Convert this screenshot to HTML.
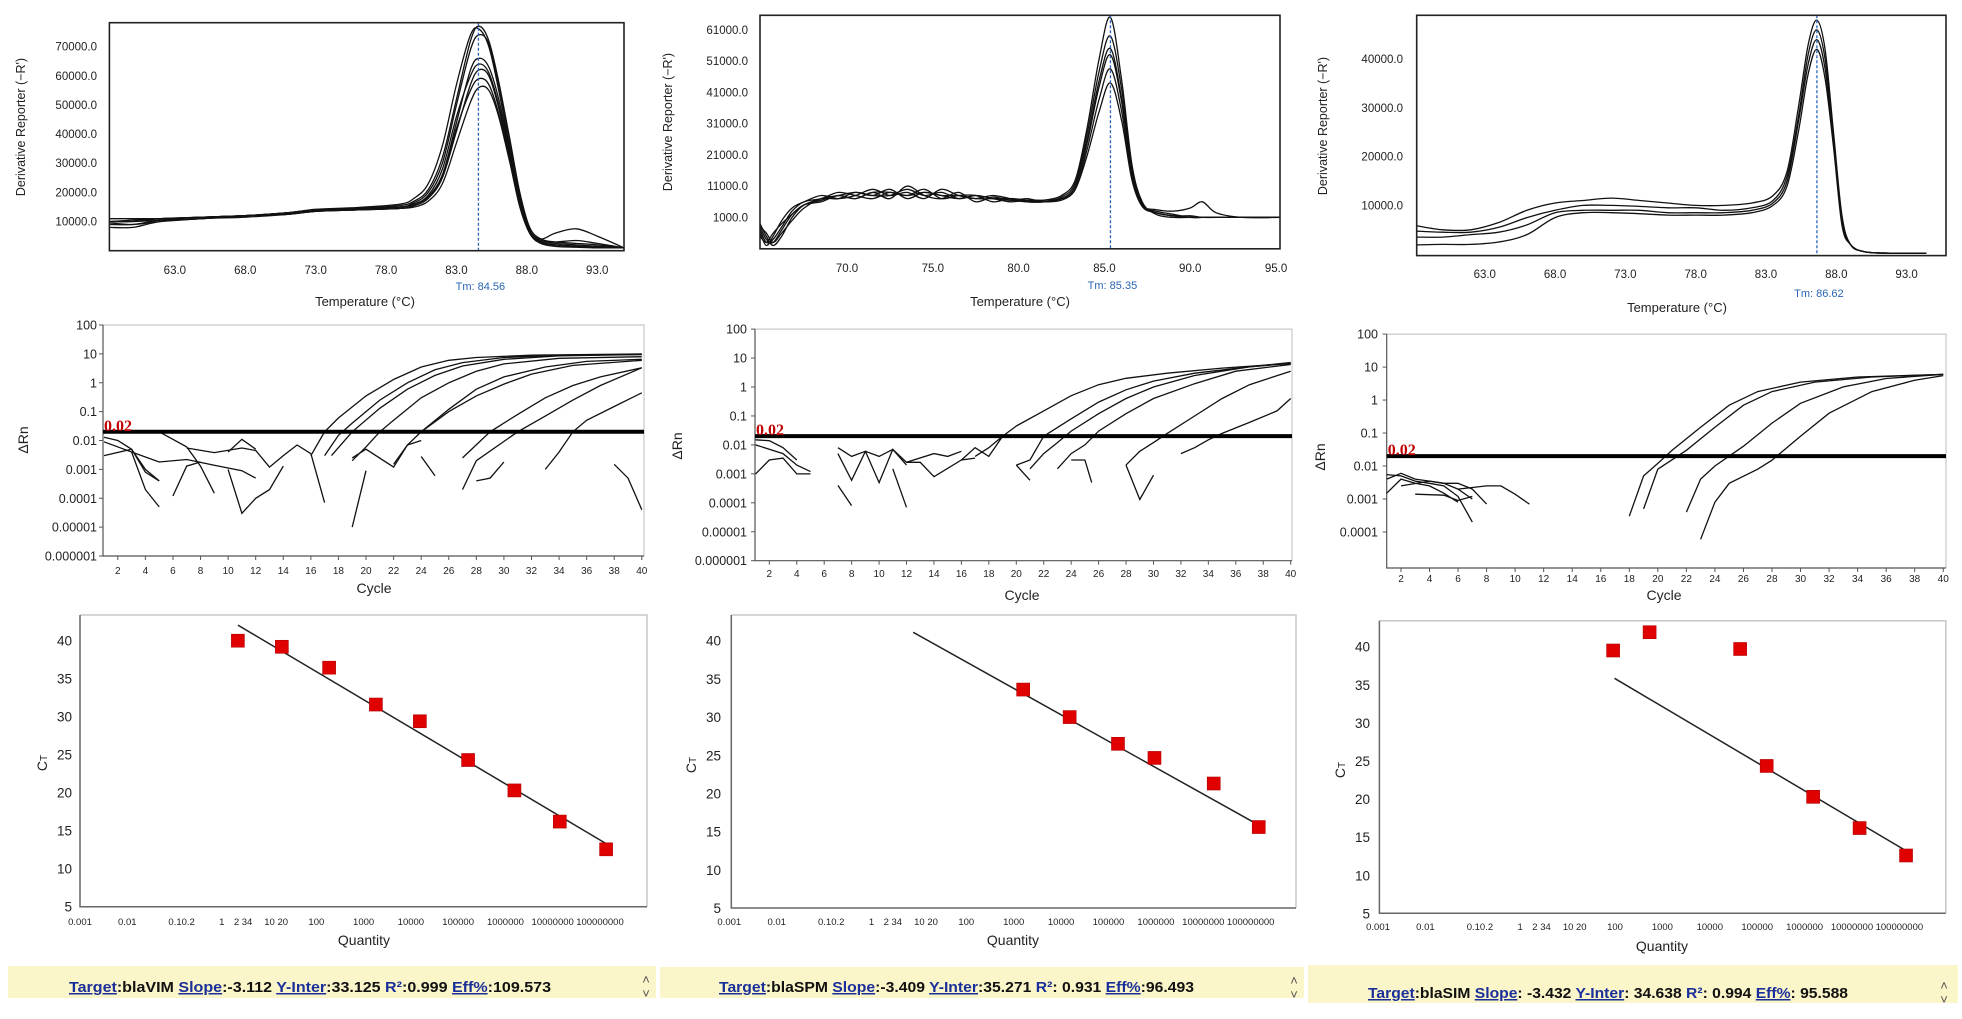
<!DOCTYPE html>
<html><head><meta charset="utf-8"><style>
html,body{margin:0;padding:0;background:#fff;}
svg{display:block;font-family:"Liberation Sans",Arial,sans-serif;}
</style></head><body>
<svg id="chart" width="1962" height="1019" viewBox="0 0 1962 1019" xmlns="http://www.w3.org/2000/svg">
<rect x="0" y="0" width="1962" height="1019" fill="#fff"/>
<g>
<rect x="8" y="966" width="648" height="32" fill="#fbf6c9"/>
<text x="69" y="992" font-size="15" font-weight="bold" textLength="482" lengthAdjust="spacingAndGlyphs"><tspan fill="#1a2f9a" text-decoration="underline">Target</tspan><tspan fill="#111">:blaVIM  </tspan><tspan fill="#1a2f9a" text-decoration="underline">Slope</tspan><tspan fill="#111">:-3.112  </tspan><tspan fill="#1a2f9a" text-decoration="underline">Y-Inter</tspan><tspan fill="#111">:33.125 </tspan><tspan fill="#1a2f9a">R²</tspan><tspan fill="#111">:0.999  </tspan><tspan fill="#1a2f9a" text-decoration="underline">Eff%</tspan><tspan fill="#111">:109.573</tspan></text>
<text x="646" y="984" font-size="13" fill="#555" text-anchor="middle">˄</text>
<text x="646" y="998" font-size="13" fill="#555" text-anchor="middle">˅</text>
</g>
<g>
<rect x="660" y="967" width="644" height="31" fill="#fbf6c9"/>
<text x="719" y="992" font-size="15" font-weight="bold" textLength="475" lengthAdjust="spacingAndGlyphs"><tspan fill="#1a2f9a" text-decoration="underline">Target</tspan><tspan fill="#111">:blaSPM </tspan><tspan fill="#1a2f9a" text-decoration="underline">Slope</tspan><tspan fill="#111">:-3.409  </tspan><tspan fill="#1a2f9a" text-decoration="underline">Y-Inter</tspan><tspan fill="#111">:35.271  </tspan><tspan fill="#1a2f9a">R²</tspan><tspan fill="#111">: 0.931 </tspan><tspan fill="#1a2f9a" text-decoration="underline">Eff%</tspan><tspan fill="#111">:96.493</tspan></text>
<text x="1294" y="985" font-size="13" fill="#555" text-anchor="middle">˄</text>
<text x="1294" y="999" font-size="13" fill="#555" text-anchor="middle">˅</text>
</g>
<g>
<rect x="1308" y="965" width="650" height="38" fill="#fbf6c9"/>
<text x="1368" y="998" font-size="15" font-weight="bold" textLength="480" lengthAdjust="spacingAndGlyphs"><tspan fill="#1a2f9a" text-decoration="underline">Target</tspan><tspan fill="#111">:blaSIM  </tspan><tspan fill="#1a2f9a" text-decoration="underline">Slope</tspan><tspan fill="#111">: -3.432 </tspan><tspan fill="#1a2f9a" text-decoration="underline">Y-Inter</tspan><tspan fill="#111">: 34.638 </tspan><tspan fill="#1a2f9a">R²</tspan><tspan fill="#111">: 0.994 </tspan><tspan fill="#1a2f9a" text-decoration="underline">Eff%</tspan><tspan fill="#111">: 95.588</tspan></text>
<text x="1944" y="990" font-size="13" fill="#555" text-anchor="middle">˄</text>
<text x="1944" y="1004" font-size="13" fill="#555" text-anchor="middle">˅</text>
</g>
</svg>
<script>
const meltTemps1 = [58.4,60,62,65,68,71,73,76,79,80,81,82,83,84,84.6,85.3,86,86.8,87.5,88.2,89,90,91.5,93,94.9];
const meltVals1 = [
 [11,11,11,11.5,12,13,14,14.5,15.5,17,21,32,52,72,77,72,58,38,20,8,4,3,2.5,2,1],
 [10,10.5,11,11.5,12,13,14.2,14.8,16,18,23,36,57,74,76,70,55,35,18,7,3.5,2.5,2,1.5,1],
 [9,9,10.5,11.5,12,13,14,14.5,15,16.5,20,30,50,69,74,71,57,37,19,7,3,2,1.5,1.2,1],
 [8,8,10,11,12,12.5,13.5,14,14.5,15.5,18,26,44,62,66,63,52,34,18,7,4,6,7.5,5,1],
 [10,10,11,11.5,12,13,13.8,14.2,15,16,19,28,46,60,64,61,50,33,17,7,3.5,3,3.5,2.5,1],
 [11,11,11,11.5,12,12.5,13.5,14,14.5,15.5,18,25,41,57,62,60,49,32,16,6,2.5,2,1.5,1,1],
 [10,10,10.5,11,12,13,14,14.5,15,16,18.5,26,42,55,59,57,47,31,16,6,3,2,1.5,1.2,1],
 [9.5,9,10,11,11.5,12.5,13.5,14,14.5,15,17,23,37,51,56,55,46,30,15,6,2.5,1.5,1.2,1,1]
];
const meltYTicks1 = [10,20,30,40,50,60,70];
const meltXTicks1 = [63,68,73,78,83,88,93];
const meltTm1 = 84.56;

const meltTemps2 = [64.93,65.3,65.7,66.2,66.8,67.5,68.5,69.5,70.5,71.5,72.5,73.5,74.5,75.5,76.5,77.5,78.5,79.5,80.5,81.5,82.5,83.3,84,84.7,85.35,86,86.6,87.2,88,89,90,90.7,91.5,93,95.2];
const meltVals2 = [
 [-2,-6,-7,-3,2,5,7,8,9,8,10,7,9,8,7,8,7,6.5,6,6.5,8,13,30,52,65,45,18,6,2,1,1,1,1,1,1],
 [-4,-8,-5,0,4,6,8,7,8,10,8,9,7,10,8,7,8,7,6,6,7.5,12,28,48,59,42,17,5.5,2.5,1.5,1.5,1,1,1,1],
 [-1,-5,-8,-5,1,5,6.5,8,7,9,7,11,8,7,9,6,7.5,6.5,7,6,7,11,26,45,55,39,16,5,3,2,1,1,1,1,1],
 [-3,-7,-6,-2,3,6,7,9,8,7,9,8,10,7,8,8,6,7,6.5,6,7,11,25,43,53,38,15,5,3.5,3,4,6,2.5,1,1],
 [-2,-4,-7,-4,0,4,7,7,9,8,8,10,8,9,7,8,7,6,6.5,6.5,7,10,23,39,48.5,35,14,5,2.5,1.5,1,1,1,1,1],
 [-5,-7,-4,-1,2,5,6,8,7,9,9,8,9,8,8,7,7,7,6,6,6.5,10,21,35,44,32,13,4.5,2.5,1.5,1,1,1,1,1]
];
const meltYTicks2 = [1,11,21,31,41,51,61];
const meltXTicks2 = [70,75,80,85,90,95];
const meltTm2 = 85.35;

const meltTemps3 = [58.2,60,62,64,66,68,70,72,74,76,78,80,82,83.5,84.5,85.3,86,86.62,87.2,87.8,88.4,89,90,92,94.4];
const meltVals3 = [
 [5.8,5,5,6.5,9,10.5,11,11.5,11,10.5,10,10,10.5,12,17,30,43,48,42,25,8,2,0.5,0.2,0.2],
 [4.7,4.5,4.5,5.5,7.5,9,10,10,9.8,9.5,9.5,9,9.5,11,16,28,41,46,40,24,7,2,0.5,0.2,0.2],
 [3.5,3.5,4,4.5,6,8.5,9,9,9,8.5,8.5,8.5,9,10.5,15,27,39,44,38,23,7,2,0.5,0.2,0.2],
 [1.9,2,2,2.5,4,7.5,8.5,8.5,8.3,8,8,8,8.5,10,14,25,37,42,36,22,6,2,0.5,0.2,0.2]
];
const meltYTicks3 = [10,20,30,40];
const meltXTicks3 = [63,68,73,78,83,88,93];
const meltTm3 = 86.62;

const ampCycles1 = [
 [16,17,18,20,22,24,26,28,32,40],[17,18,19,21,23,25,27,30,34,40],[17.5,19,21,23,25,27,30,34,40],
 [19,20,21,22,24,26,28,30,34,40],[22,23,24,26,28,30,33,36,40],[24,26,28,30,32,35,40],
 [27,29,31,33,35,37,40],[27,28,31,33,35,37,40],[33,34,35,36,38,40],
 [1,2,3,4,5],[1,3,5,7,9,11,12],[1,3,4,5],[5,7,8,9],[3,4,5],[6,7,8],
 [7,9,11,12,13,14,15,16],[10,11,12],[10,11,12,13,14],[16,17],[19,20],[19,20,22,23,24],[24,25],[28,29,30],[38,39,40]
];
const ampValues1 = [
 [0.003,0.02,0.06,0.35,1.3,3.5,6,7.5,9,10],[0.003,0.015,0.04,0.25,1,2.8,5,7.5,9,9.5],[0.003,0.02,0.13,0.6,1.8,3.8,6.5,8.5,9.5],
 [0.002,0.006,0.02,0.05,0.3,1,2.5,4.5,7,8],[0.0015,0.007,0.02,0.12,0.6,1.6,3.5,5.5,6.5],[0.02,0.1,0.35,0.9,2,4,6],
 [0.0025,0.02,0.08,0.3,0.8,1.6,3.3],[0.0002,0.002,0.02,0.07,0.25,0.8,3.3],[0.001,0.004,0.02,0.05,0.15,0.45],
 [0.013,0.01,0.005,0.001,0.0004],[0.009,0.004,0.0018,0.0022,0.0014,0.0009,0.0005],[0.003,0.005,0.0008,0.0004],[0.02,0.006,0.0013,0.00015],[0.004,0.0002,0.00005],[0.00012,0.0013,0.0018],
 [0.0055,0.0038,0.0055,0.0045,0.0012,0.003,0.007,0.0035],[0.004,0.011,0.005],[0.001,0.00003,0.0001,0.0002,0.0013],[0.0035,0.00007],[0.00001,0.0009],[0.0025,0.005,0.0012,0.007,0.01],[0.0028,0.0006],[0.0004,0.0005,0.0018],[0.0015,0.0005,0.00004]
];
const ampCycles2 = [
 [17,18,19,20,22,24,26,28,31,35,40],[20,21,22,24,26,28,30,33,37,40],[21,22,23,24,26,28,30,33,37,40],
 [23,24,25,26,28,30,33,36,40],[28,29,30,31,33,35,37,40],[32,33,34,35,37,39,40],
 [1,3,4,5],[1,2,3,4,5],[1,2,3,4],[7,8,9,10,11,12,13,14,16,17],[7,8,9,10,11,12],[7,8],[11,12],[12,14,15,16],[16,17,18,19],[20,21],[24,25,25.5],[28,29,30]
];
const ampValues2 = [
 [0.004,0.008,0.02,0.045,0.15,0.5,1.2,2,3,4.5,6.5],[0.002,0.003,0.02,0.08,0.3,0.8,1.6,3,5,6.5],[0.0015,0.005,0.012,0.03,0.12,0.4,1,2.5,5,7],
 [0.0015,0.005,0.01,0.03,0.12,0.4,1.3,3.5,6],[0.002,0.006,0.012,0.025,0.1,0.4,1.2,3.5],[0.005,0.008,0.015,0.025,0.06,0.15,0.4],
 [0.01,0.005,0.002,0.0012],[0.001,0.003,0.0035,0.001,0.001],[0.015,0.014,0.008,0.003],[0.008,0.004,0.006,0.0005,0.007,0.0025,0.0025,0.0008,0.003,0.0035],[0.005,0.0006,0.006,0.004,0.007,0.002],[0.0004,0.00008],[0.0015,0.00007],[0.0025,0.005,0.004,0.006],[0.003,0.008,0.004,0.02],[0.002,0.0006],[0.003,0.003,0.0005],[0.002,0.00013,0.0009]
];
const ampCycles3 = [
 [18,19,20,21,23,25,27,30,34,40],[19,20,22,24,26,28,31,35,40],[22,23,24,26,28,30,33,36,40],[23,24,25,27,28,30,32,35,38,40],
 [1,2,3,4,5,6],[1,2,3,4,5,6,7,8],[1,2,3,4,5,6,7],[2,4,5,6,7],[3,5,6,7],[6,8,9,10,11]
];
const ampValues3 = [
 [0.0003,0.005,0.012,0.03,0.15,0.7,1.8,3.5,5,6],[0.0005,0.008,0.03,0.15,0.7,1.8,3.5,5,6],[0.0004,0.004,0.01,0.04,0.2,0.8,2.5,4.5,6],[0.00006,0.0008,0.003,0.008,0.015,0.08,0.4,1.8,4,5.5],
 [0.0015,0.004,0.003,0.0025,0.0015,0.0008],[0.004,0.006,0.004,0.0035,0.003,0.003,0.002,0.0007],[0.0055,0.005,0.0035,0.003,0.0025,0.0012,0.0002],[0.0025,0.0035,0.003,0.002,0.001],[0.0014,0.0013,0.0009,0.0012],[0.002,0.0025,0.0025,0.0014,0.0007]
];
const ampThreshold = 0.02;
const ampXTicks = [2,4,6,8,10,12,14,16,18,20,22,24,26,28,30,32,34,36,38,40];
const ampYTickLabels = ['100','10','1','0.1','0.01','0.001','0.0001','0.00001','0.000001'];
const ampYTickLabels3 = ['100','10','1','0.1','0.01','0.001','0.0001'];

const std1LogQty = [0.34,1.27,2.27,3.26,4.19,5.21,6.19,7.15,8.13];
const std1Ct = [40,39.2,36.45,31.6,29.4,24.3,20.3,16.2,12.55];
const std1FitLogQty = [0.34,8.13];
const std1FitCt = [42.05,13.3];
const std2LogQty = [3.2,4.18,5.2,5.97,7.22,8.17];
const std2Ct = [33.6,30,26.5,24.65,21.3,15.6];
const std2FitLogQty = [0.88,8.07];
const std2FitCt = [41.1,16.2];
const std3LogQty = [1.96,2.73,4.64,5.2,6.18,7.16,8.14];
const std3Ct = [39.5,41.9,39.7,24.35,20.3,16.2,12.6];
const std3FitLogQty = [1.99,8.09];
const std3FitCt = [35.85,13.4];
const stdYTicks = [5,10,15,20,25,30,35,40];
const stdXTickPos = [-3,-2,-0.85,0,0.45,1.15,2,3,4,5,6,7,8];
const stdXTickLabels = ['0.001','0.01','0.10.2','1','2 34','10 20','100','1000','10000','100000','1000000','10000000','100000000'];

const NS = 'http://www.w3.org/2000/svg';
const svg = document.getElementById('chart');
function mk(tag, parent){ const e = document.createElementNS(NS, tag); parent.appendChild(e); return e; }
function smoothPath(pts){
  let d = 'M' + pts[0][0].toFixed(1) + ',' + pts[0][1].toFixed(1);
  for (let i = 0; i < pts.length - 1; i++){
    const p0 = pts[i-1] || pts[i], p1 = pts[i], p2 = pts[i+1], p3 = pts[i+2] || p2;
    const c1x = p1[0] + (p2[0]-p0[0])/6, c1y = p1[1] + (p2[1]-p0[1])/6;
    const c2x = p2[0] - (p3[0]-p1[0])/6, c2y = p2[1] - (p3[1]-p1[1])/6;
    d += ' C' + c1x.toFixed(1)+','+c1y.toFixed(1)+' '+c2x.toFixed(1)+','+c2y.toFixed(1)+' '+p2[0].toFixed(1)+','+p2[1].toFixed(1);
  }
  return d;
}
function txt(parent, x, y, s, size, anchor, name){
  const t = mk('text', parent);
  t.setAttribute('x', x); t.setAttribute('y', y);
  t.setAttribute('font-size', size); t.setAttribute('text-anchor', anchor || 'middle');
  t.setAttribute('fill', '#222');
  t.textContent = s;
  
  
  return t;
}

function meltPanel(cfg, temps, vals, yTicks, xTicks, tm, id){
  const g = mk('g', svg);
  
  
  const sx = t => cfg.l + (t - cfg.xmin) / (cfg.xmax - cfg.xmin) * (cfg.r - cfg.l);
  const sy = v => cfg.b - (v - cfg.ymin) / (cfg.ymax - cfg.ymin) * (cfg.b - cfg.t);
  const clip = mk('clipPath', g); clip.setAttribute('id', 'mc' + id);
  const cr = mk('rect', clip); cr.setAttribute('x', cfg.l); cr.setAttribute('y', cfg.t); cr.setAttribute('width', cfg.r-cfg.l); cr.setAttribute('height', cfg.b-cfg.t);
  const lines = mk('g', g); lines.setAttribute('clip-path', 'url(#mc' + id + ')');
   
  vals.forEach((series, si) => {
    const pts = series.map((v, i) => [sx(temps[i]), sy(v)]);
    const p = mk('path', lines);
    p.setAttribute('d', smoothPath(pts));
    p.setAttribute('fill', 'none'); p.setAttribute('stroke', '#111'); p.setAttribute('stroke-width', '1.3');
    
    
  });
  const tl = mk('line', g);
  tl.setAttribute('x1', sx(tm)); tl.setAttribute('x2', sx(tm)); tl.setAttribute('y1', cfg.t); tl.setAttribute('y2', cfg.b);
  tl.setAttribute('stroke', '#2a64b4'); tl.setAttribute('stroke-width', '1.3'); tl.setAttribute('stroke-dasharray', '3,2');
  
  
  const box = mk('rect', g);
  box.setAttribute('x', cfg.l); box.setAttribute('y', cfg.t); box.setAttribute('width', cfg.r-cfg.l); box.setAttribute('height', cfg.b-cfg.t);
  box.setAttribute('fill', 'none'); box.setAttribute('stroke', '#222'); box.setAttribute('stroke-width', '1.6');
  
  
  yTicks.forEach(v => { txt(g, cfg.yl, sy(v) + 4, (v*1000).toFixed(1), 11.5, 'end', 'y-tick-label'); });
  xTicks.forEach(v => { txt(g, sx(v), cfg.xly, v.toFixed(1), 11.5, 'middle', 'x-tick-label'); });
  const tmt = txt(g, sx(tm) + 2, cfg.tmy, 'Tm: ' + tm.toFixed(2), 11, 'middle', 'tm-label');
  tmt.setAttribute('fill', '#2a64b4');
  txt(g, cfg.ttx, cfg.tty, 'Temperature (°C)', 13, 'middle', 'x-axis-title');
  const yt = txt(g, 0, 0, "Derivative Reporter (−R')", 12.5, 'middle', 'y-axis-title');
  yt.setAttribute('transform', 'translate(' + cfg.ytx + ',' + cfg.yty + ') rotate(-90)');
  yt.setAttribute('x', 0); yt.setAttribute('y', 4);
}
meltPanel({l:109.4,t:22.7,r:624,b:250.7,xmin:58.35,xmax:94.9,ymin:0,ymax:78.2,yl:97,xly:274,tmy:290,ttx:365,tty:306,ytx:21,yty:127}, meltTemps1, meltVals1, meltYTicks1, meltXTicks1, meltTm1, 1);
meltPanel({l:760,t:15.3,r:1280,b:248.8,xmin:64.93,xmax:95.23,ymin:-9.05,ymax:65.66,yl:748,xly:272,tmy:289,ttx:1020,tty:306,ytx:668,yty:122}, meltTemps2, meltVals2, meltYTicks2, meltXTicks2, meltTm2, 2);
meltPanel({l:1416.7,t:15.3,r:1946,b:255.6,xmin:58.16,xmax:95.8,ymin:-0.3,ymax:49,yl:1403,xly:278,tmy:297,ttx:1677,tty:312,ytx:1323,yty:126}, meltTemps3, meltVals3, meltYTicks3, meltXTicks3, meltTm3, 3);

function ampPanel(cfg, cycles, values, yLabels, id){
  const g = mk('g', svg);
  
  
  const sx = c => cfg.x1 + (c - 1) * cfg.dx;
  const sy = v => cfg.t + (2 - Math.log10(v)) * cfg.dec;
  const fr = mk('path', g);
  fr.setAttribute('d', 'M'+cfg.l+','+cfg.t+' H'+cfg.r+' V'+cfg.b);
  fr.setAttribute('fill','none'); fr.setAttribute('stroke','#c8c8c8'); fr.setAttribute('stroke-width','1.2');
  
  
  const ax = mk('path', g);
  ax.setAttribute('d', 'M'+cfg.l+','+cfg.t+' V'+cfg.b+' H'+cfg.r);
  ax.setAttribute('fill','none'); ax.setAttribute('stroke','#555'); ax.setAttribute('stroke-width','1.2');
  
  
  yLabels.forEach((s, i) => {
    const y = cfg.t + i * cfg.dec;
    const tk = mk('line', g);
    tk.setAttribute('x1', cfg.l - 4); tk.setAttribute('x2', cfg.l); tk.setAttribute('y1', y); tk.setAttribute('y2', y); tk.setAttribute('stroke', '#555');
    
    
    txt(g, cfg.yl, y + 4.5, s, 12.5, 'end', 'y-tick-label');
  });
  ampXTicks.forEach(c => {
    const tk = mk('line', g);
    tk.setAttribute('x1', sx(c)); tk.setAttribute('x2', sx(c)); tk.setAttribute('y1', cfg.b); tk.setAttribute('y2', cfg.b + 4); tk.setAttribute('stroke', '#555');
    
    
    txt(g, sx(c), cfg.xly, String(c), 10, 'middle', 'x-tick-label');
  });
  const lines = mk('g', g);
   
  cycles.forEach((cs, si) => {
    const d = cs.map((c, i) => (i ? 'L' : 'M') + sx(c).toFixed(1) + ',' + sy(values[si][i]).toFixed(1)).join(' ');
    const p = mk('path', lines);
    p.setAttribute('d', d); p.setAttribute('fill', 'none'); p.setAttribute('stroke', '#111'); p.setAttribute('stroke-width', '1.3');
    
    
  });
  const th = mk('line', g);
  th.setAttribute('x1', cfg.l); th.setAttribute('x2', cfg.r); th.setAttribute('y1', sy(ampThreshold)); th.setAttribute('y2', sy(ampThreshold));
  th.setAttribute('stroke', '#000'); th.setAttribute('stroke-width', '4');
  
  
  const tt = txt(g, cfg.l + 1, sy(ampThreshold) - 1, String(ampThreshold), 16, 'start', 'threshold-label');
  tt.setAttribute('fill', '#c00000'); tt.setAttribute('font-family', '"Liberation Serif",serif'); tt.setAttribute('font-weight', 'bold');
  txt(g, cfg.ctx, cfg.cty, 'Cycle', 14, 'middle', 'x-axis-title');
  const yt = txt(g, 0, 0, 'ΔRn', 14, 'middle', 'y-axis-title');
  yt.setAttribute('transform', 'translate(' + cfg.ytx + ',' + cfg.yty + ') rotate(-90)');
  yt.setAttribute('y', 5);
}
ampPanel({l:103,r:644,t:325,b:556,dec:28.875,x1:104,dx:13.79,yl:97,xly:574,ctx:374,cty:593,ytx:23,yty:440}, ampCycles1, ampValues1, ampYTickLabels, 1);
ampPanel({l:755,r:1292,t:329.1,b:560.7,dec:28.95,x1:755.6,dx:13.72,yl:747,xly:577,ctx:1022,cty:600,ytx:677,yty:446}, ampCycles2, ampValues2, ampYTickLabels, 2);
ampPanel({l:1386.7,r:1946,t:334.1,b:568,dec:32.98,x1:1386.7,dx:14.27,yl:1378,xly:582,ctx:1664,cty:600,ytx:1320,yty:457}, ampCycles3, ampValues3, ampYTickLabels3, 3);

function stdPanel(cfg, lq, ct, fq, fc, id){
  const g = mk('g', svg);
  
  
  const sx = q => cfg.x0 + (q + 3) * cfg.dq;
  const sy = c => cfg.y40 + (40 - c) * cfg.du;
  const fr = mk('path', g);
  fr.setAttribute('d', 'M'+cfg.l+','+cfg.t+' H'+cfg.r+' V'+cfg.b);
  fr.setAttribute('fill','none'); fr.setAttribute('stroke','#c8c8c8'); fr.setAttribute('stroke-width','1.5');
  
  
  const ax = mk('path', g);
  ax.setAttribute('d', 'M'+cfg.l+','+cfg.t+' V'+cfg.b+' H'+cfg.r);
  ax.setAttribute('fill','none'); ax.setAttribute('stroke','#666'); ax.setAttribute('stroke-width','1.5');
  
  
  stdYTicks.forEach(v => { txt(g, cfg.yl, sy(v) + 5, String(v), 13.5, 'end', 'y-tick-label'); });
  stdXTickPos.forEach((q, i) => { txt(g, sx(q), cfg.xly, stdXTickLabels[i], 9.5, 'middle', 'x-tick-label'); });
  const fl = mk('line', g);
  fl.setAttribute('x1', sx(fq[0])); fl.setAttribute('y1', sy(fc[0])); fl.setAttribute('x2', sx(fq[1])); fl.setAttribute('y2', sy(fc[1]));
  fl.setAttribute('stroke', '#222'); fl.setAttribute('stroke-width', '1.5');
  
  
  lq.forEach((q, i) => {
    const r = mk('rect', g);
    r.setAttribute('x', sx(q) - 6.5); r.setAttribute('y', sy(ct[i]) - 6.5); r.setAttribute('width', 13); r.setAttribute('height', 13);
    r.setAttribute('fill', '#e00000'); r.setAttribute('stroke', '#b00000'); r.setAttribute('stroke-width', '0.6');
    
    
  });
  txt(g, cfg.qx, cfg.qy, 'Quantity', 14, 'middle', 'x-axis-title');
  const yt = txt(g, 0, 0, '', 14, 'middle', 'y-axis-title');
  yt.setAttribute('transform', 'translate(' + cfg.ytx + ',' + cfg.yty + ') rotate(-90)');
  yt.setAttribute('y', 5);
  const c1 = mk('tspan', yt); c1.textContent = 'C';
  const c2 = mk('tspan', yt); c2.textContent = 'T'; c2.setAttribute('font-size', '10');
}
stdPanel({l:80,t:615,r:647,b:906.7,x0:80,dq:47.27,y40:640.7,du:7.6,yl:72,xly:925,qx:364,qy:945,ytx:42,yty:763}, std1LogQty, std1Ct, std1FitLogQty, std1FitCt, 1);
stdPanel({l:731.3,t:615,r:1296,b:908,x0:729.3,dq:47.4,y40:640.7,du:7.637,yl:721,xly:925,qx:1013,qy:945,ytx:691,yty:765}, std2LogQty, std2Ct, std2FitLogQty, std2FitCt, 2);
stdPanel({l:1379.4,t:620.7,r:1945.8,b:913.3,x0:1378,dq:47.4,y40:646.7,du:7.62,yl:1370,xly:930,qx:1662,qy:951,ytx:1340,yty:770}, std3LogQty, std3Ct, std3FitLogQty, std3FitCt, 3);
</script>
</body></html>
